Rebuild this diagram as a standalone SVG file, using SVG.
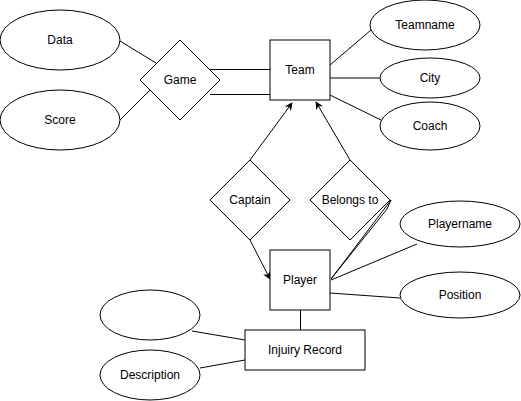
<svg xmlns="http://www.w3.org/2000/svg" width="521" height="401" viewBox="0 0 521 401">
<style>
.s{fill:#fff;stroke:#000;stroke-width:1}
.l{fill:none;stroke:#000;stroke-width:1}
text{font-family:"Liberation Sans",Arial,sans-serif;font-size:12px;fill:#000;text-anchor:middle;dominant-baseline:central}
</style>
<defs>
<marker id="arr" viewBox="0 0 10 10" refX="9" refY="5" markerWidth="8" markerHeight="8" markerUnits="userSpaceOnUse" orient="auto">
<path d="M0,0 L10,5 L0,10 L3,5 Z" fill="#000"/>
</marker>
</defs>
<rect width="521" height="401" fill="#fff"/>
<g id="connectors">
<line class="l" x1="120" y1="41" x2="156" y2="63"/>
<line class="l" x1="120" y1="120" x2="150" y2="90"/>
<line class="l" x1="210" y1="69.5" x2="270" y2="69.5"/>
<line class="l" x1="210" y1="94.5" x2="270" y2="94.5"/>
<line class="l" x1="330" y1="65" x2="371" y2="30"/>
<line class="l" x1="330" y1="78" x2="380" y2="78"/>
<line class="l" x1="330" y1="95" x2="381" y2="120"/>
<line class="l" x1="250" y1="160" x2="292" y2="103" marker-end="url(#arr)"/>
<line class="l" x1="350" y1="160" x2="316" y2="102" marker-end="url(#arr)"/>
<line class="l" x1="250" y1="240" x2="270" y2="279" marker-end="url(#arr)"/>
<line class="l" x1="391" y1="200" x2="331" y2="279"/>
<polyline class="l" points="391,200 387,209 331,279"/>
<line class="l" x1="417" y1="244" x2="331" y2="280"/>
<line class="l" x1="330" y1="293" x2="400" y2="298"/>
<line class="l" x1="300.5" y1="310" x2="300.5" y2="330"/>
<line class="l" x1="192" y1="331" x2="245" y2="340"/>
<line class="l" x1="200" y1="368" x2="245" y2="360"/>
</g>
<g id="data"><ellipse class="s" cx="60" cy="40" rx="60" ry="30"/><text x="60" y="40">Data</text></g>
<g id="score"><ellipse class="s" cx="60" cy="120" rx="60" ry="30"/><text x="60" y="120">Score</text></g>
<g id="game"><polygon class="s" points="180,40 220,80 180,120 140,80"/><text x="180" y="80">Game</text></g>
<g id="team"><rect class="s" x="270" y="40" width="60" height="60"/><text x="300" y="70">Team</text></g>
<g id="teamname"><ellipse class="s" cx="425" cy="25" rx="55" ry="25"/><text x="425" y="25">Teamname</text></g>
<g id="city"><ellipse class="s" cx="430" cy="78" rx="50" ry="20"/><text x="430" y="78">City</text></g>
<g id="coach"><ellipse class="s" cx="430" cy="126" rx="50" ry="24"/><text x="430" y="126">Coach</text></g>
<g id="captain"><polygon class="s" points="250,160 290,200 250,240 210,200"/><text x="250" y="200">Captain</text></g>
<g id="belongs"><polygon class="s" points="350,160 390,200 350,240 310,200"/><text x="350" y="200">Belongs to</text></g>
<g id="player"><rect class="s" x="270" y="250" width="60" height="60"/><text x="300" y="280">Player</text></g>
<g id="playername"><ellipse class="s" cx="460" cy="224" rx="60" ry="23"/><text x="460" y="224">Playername</text></g>
<g id="position"><ellipse class="s" cx="460" cy="295" rx="60" ry="23"/><text x="460" y="295">Position</text></g>
<g id="injury"><rect class="s" x="245" y="330" width="120" height="40"/><text x="305" y="350">Injuiry Record</text></g>
<g id="blank"><ellipse class="s" cx="150" cy="315" rx="50" ry="25"/></g>
<g id="description"><ellipse class="s" cx="150" cy="375" rx="50" ry="25"/><text x="150" y="375">Description</text></g>
</svg>
